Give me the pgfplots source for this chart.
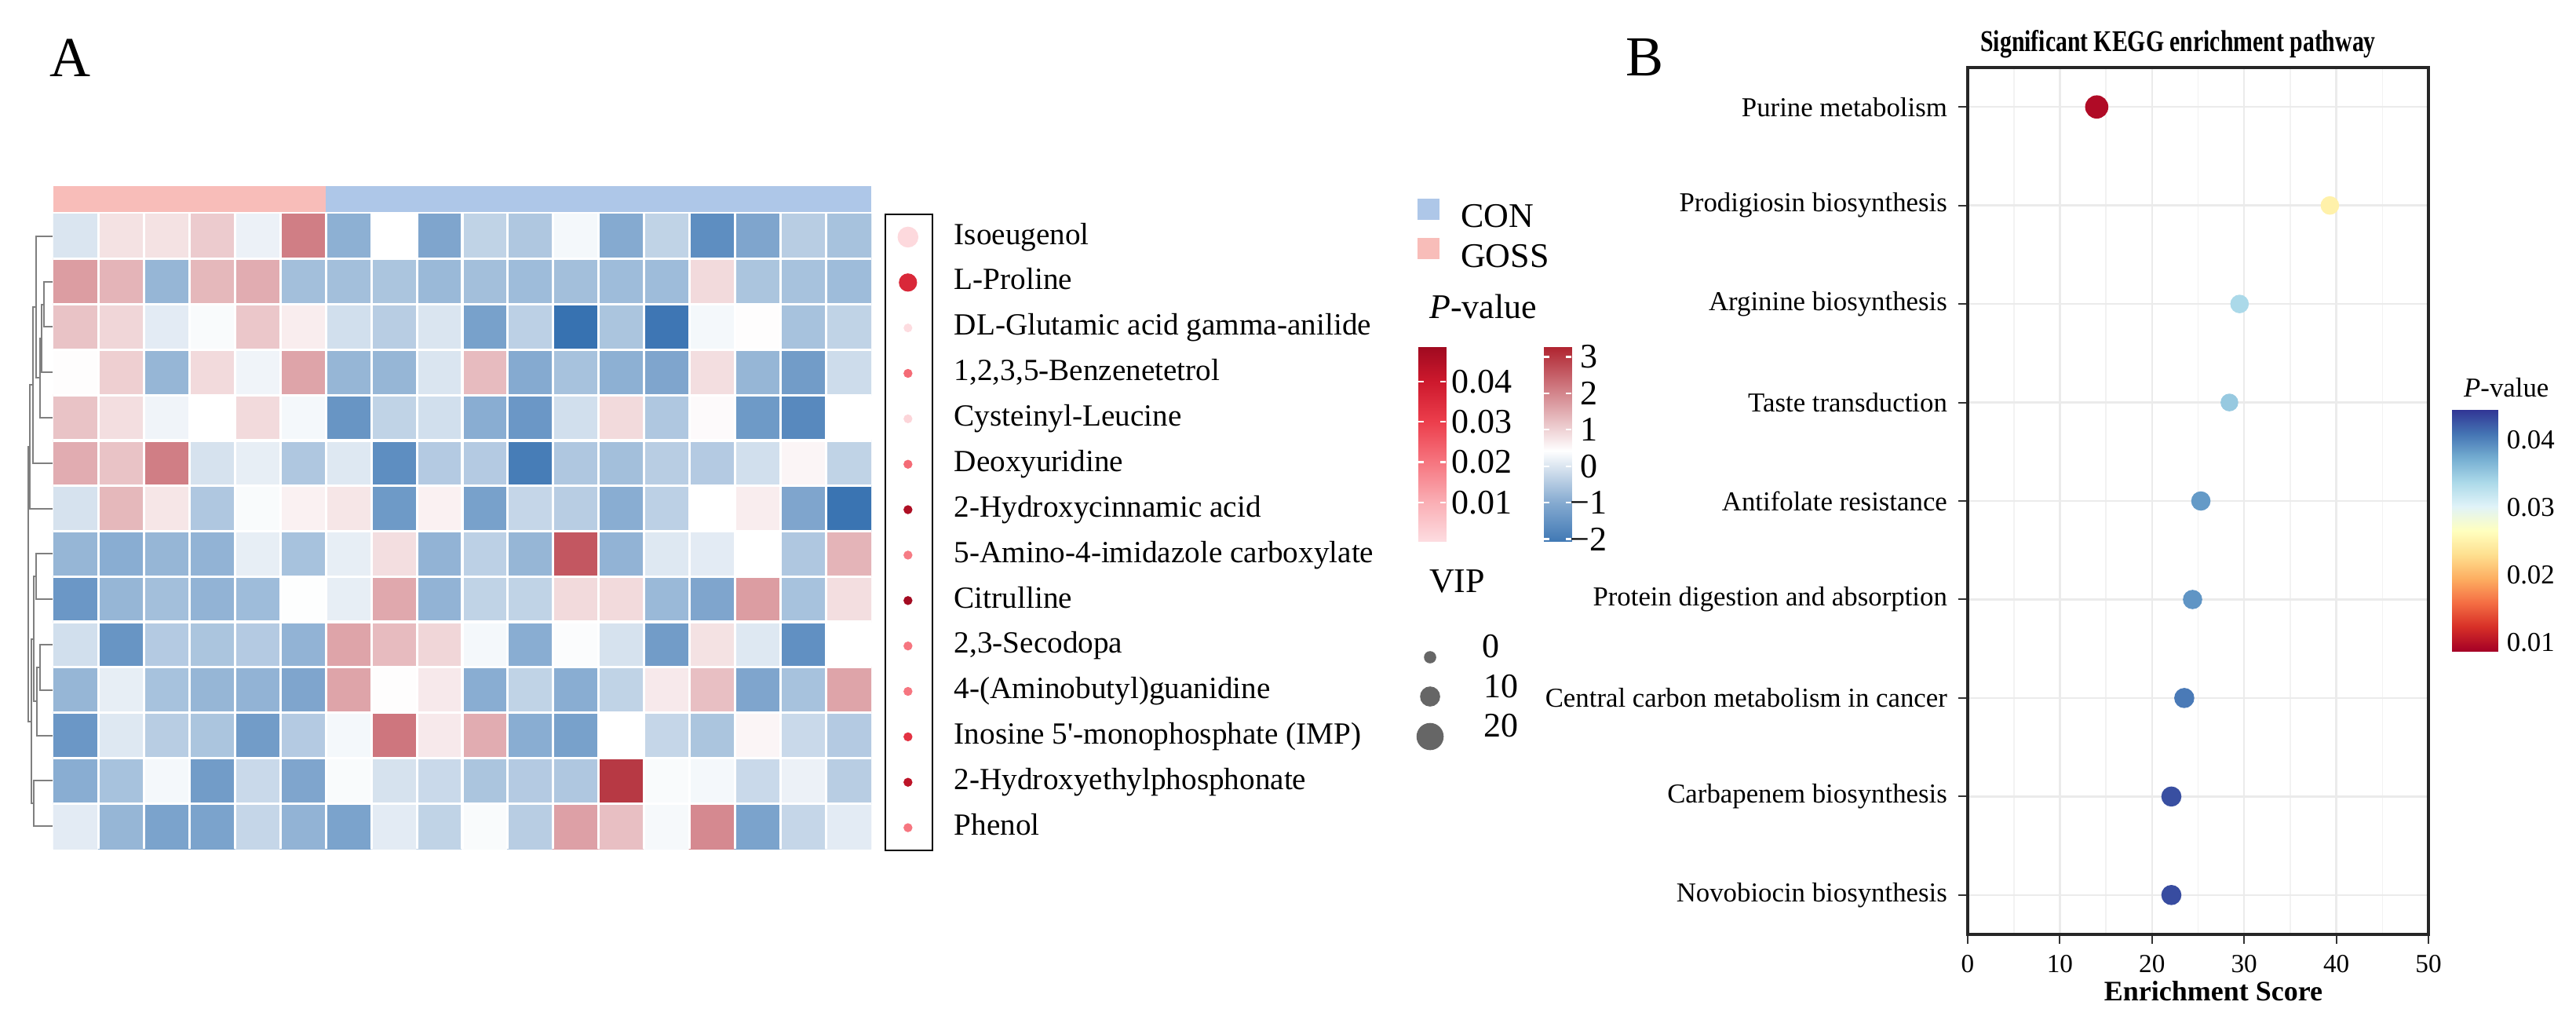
\documentclass[border=0pt]{standalone}
\usepackage{fontspec}
\setmainfont{Liberation Serif}
\usepackage{graphicx}
\usepackage{pgfplots}
\pgfplotsset{compat=1.18}
\definecolor{conc}{HTML}{AEC7E8}
\definecolor{gossc}{HTML}{F8BDB9}
\definecolor{dendro}{HTML}{7F7F7F}
\definecolor{vipgray}{HTML}{666666}
\newcommand{\fs}[1]{\fontsize{#1}{#1}\selectfont}
\pgfplotsset{
  colormap={hm}{rgb255(0pt)=(50,110,175) rgb255(128pt)=(133,170,208) rgb255(228pt)=(218,229,240) rgb255(270pt)=(255,255,255) rgb255(555pt)=(176,36,48)},
  colormap={pmap}{rgb255(0pt)=(253,222,226) rgb255(100pt)=(250,175,181) rgb255(200pt)=(246,118,128) rgb255(300pt)=(236,62,76) rgb255(400pt)=(205,25,45) rgb255(486pt)=(160,10,32)},
  colormap={rdylbu}{rgb255(0pt)=(165,0,38) rgb255(10pt)=(215,48,39) rgb255(20pt)=(244,109,67) rgb255(30pt)=(253,174,97) rgb255(40pt)=(254,224,144) rgb255(50pt)=(255,255,191) rgb255(60pt)=(224,243,248) rgb255(70pt)=(171,217,233) rgb255(80pt)=(116,173,209) rgb255(90pt)=(69,117,180) rgb255(100pt)=(49,54,149)},
  px/.style={scale only axis, anchor=south west},
  dlink/.style={dendro, line width=0.5pt, mark=none},
}
\begin{document}
\begin{tikzpicture}
\path[use as bounding box] (0pt,0pt) rectangle (820.5pt,324.5pt);

% ---------------- heatmap ----------------
\begin{axis}[px, at={(17pt,54.25pt)}, width=260.5pt, height=202.25pt,
  xmin=0.5, xmax=18.5, ymin=0.5, ymax=14.5, y dir=reverse,
  axis line style={draw=none}, major tick length=0pt,
  xtick={1.5,2.5,...,17.5}, ytick={1.5,2.5,...,13.5},
  xticklabel=\empty, yticklabel=\empty,
  grid=major, major grid style={white, line width=0.8pt}, axis on top,
  colormap name=hm, point meta min=-2.28, point meta max=3.27]
\addplot[matrix plot*, mesh/cols=18, mesh/rows=14, point meta=explicit] coordinates {
(1,1)[0.0] (2,1)[0.8] (3,1)[0.8] (4,1)[1.1] (5,1)[0.2] (6,1)[2.1] (7,1)[-0.9] (8,1)[0.42] (9,1)[-1.1] (10,1)[-0.3] (11,1)[-0.5] (12,1)[0.3] (13,1)[-1.0] (14,1)[-0.3] (15,1)[-1.6] (16,1)[-1.1] (17,1)[-0.4] (18,1)[-0.6]
(1,2)[1.7] (2,2)[1.4] (3,2)[-0.8] (4,2)[1.35] (5,2)[1.5] (6,2)[-0.65] (7,2)[-0.65] (8,2)[-0.55] (9,2)[-0.75] (10,2)[-0.65] (11,2)[-0.7] (12,2)[-0.65] (13,2)[-0.7] (14,2)[-0.7] (15,2)[0.9] (16,2)[-0.55] (17,2)[-0.6] (18,2)[-0.7]
(1,3)[1.2] (2,3)[0.95] (3,3)[0.1] (4,3)[0.35] (5,3)[1.15] (6,3)[0.65] (7,3)[-0.1] (8,3)[-0.4] (9,3)[0.0] (10,3)[-1.2] (11,3)[-0.35] (12,3)[-2.2] (13,3)[-0.55] (14,3)[-2.1] (15,3)[0.3] (16,3)[0.45] (17,3)[-0.6] (18,3)[-0.3]
(1,4)[0.45] (2,4)[1.05] (3,4)[-0.8] (4,4)[0.9] (5,4)[0.25] (6,4)[1.6] (7,4)[-0.8] (8,4)[-0.8] (9,4)[0.0] (10,4)[1.3] (11,4)[-1.0] (12,4)[-0.6] (13,4)[-0.9] (14,4)[-1.1] (15,4)[0.85] (16,4)[-0.8] (17,4)[-1.3] (18,4)[-0.15]
(1,5)[1.2] (2,5)[0.85] (3,5)[0.25] (4,5)[0.42] (5,5)[0.9] (6,5)[0.3] (7,5)[-1.45] (8,5)[-0.3] (9,5)[-0.1] (10,5)[-0.95] (11,5)[-1.4] (12,5)[-0.1] (13,5)[0.9] (14,5)[-0.5] (15,5)[0.48] (16,5)[-1.35] (17,5)[-1.7] (18,5)[0.42]
(1,6)[1.5] (2,6)[1.2] (3,6)[2.1] (4,6)[-0.05] (5,6)[0.15] (6,6)[-0.5] (7,6)[0.05] (8,6)[-1.6] (9,6)[-0.45] (10,6)[-0.45] (11,6)[-1.95] (12,6)[-0.5] (13,6)[-0.65] (14,6)[-0.4] (15,6)[-0.45] (16,6)[-0.1] (17,6)[0.55] (18,6)[-0.3]
(1,7)[-0.05] (2,7)[1.35] (3,7)[0.75] (4,7)[-0.5] (5,7)[0.35] (6,7)[0.6] (7,7)[0.75] (8,7)[-1.35] (9,7)[0.6] (10,7)[-1.2] (11,7)[-0.25] (12,7)[-0.4] (13,7)[-0.95] (14,7)[-0.35] (15,7)[0.42] (16,7)[0.65] (17,7)[-1.1] (18,7)[-2.15]
(1,8)[-0.8] (2,8)[-0.95] (3,8)[-0.8] (4,8)[-0.85] (5,8)[0.15] (6,8)[-0.6] (7,8)[0.15] (8,8)[0.85] (9,8)[-0.85] (10,8)[-0.35] (11,8)[-0.8] (12,8)[2.6] (13,8)[-0.85] (14,8)[0.05] (15,8)[0.1] (16,8)[0.42] (17,8)[-0.5] (18,8)[1.4]
(1,9)[-1.4] (2,9)[-0.8] (3,9)[-0.65] (4,9)[-0.85] (5,9)[-0.7] (6,9)[0.4] (7,9)[0.15] (8,9)[1.55] (9,9)[-0.85] (10,9)[-0.3] (11,9)[-0.3] (12,9)[0.9] (13,9)[0.9] (14,9)[-0.75] (15,9)[-1.1] (16,9)[1.7] (17,9)[-0.6] (18,9)[0.85]
(1,10)[-0.1] (2,10)[-1.45] (3,10)[-0.45] (4,10)[-0.55] (5,10)[-0.45] (6,10)[-0.85] (7,10)[1.6] (8,10)[1.3] (9,10)[0.95] (10,10)[0.3] (11,10)[-0.95] (12,10)[0.37] (13,10)[-0.05] (14,10)[-1.3] (15,10)[0.8] (16,10)[0.05] (17,10)[-1.55] (18,10)[0.42]
(1,11)[-0.8] (2,11)[0.15] (3,11)[-0.6] (4,11)[-0.8] (5,11)[-0.85] (6,11)[-1.1] (7,11)[1.6] (8,11)[0.45] (9,11)[0.7] (10,11)[-0.95] (11,11)[-0.3] (12,11)[-0.95] (13,11)[-0.3] (14,11)[0.7] (15,11)[1.25] (16,11)[-1.1] (17,11)[-0.6] (18,11)[1.6]
(1,12)[-1.4] (2,12)[0.05] (3,12)[-0.4] (4,12)[-0.55] (5,12)[-1.3] (6,12)[-0.45] (7,12)[0.3] (8,12)[2.2] (9,12)[0.7] (10,12)[1.5] (11,12)[-0.95] (12,12)[-1.2] (13,12)[0.42] (14,12)[-0.25] (15,12)[-0.55] (16,12)[0.55] (17,12)[-0.2] (18,12)[-0.45]
(1,13)[-0.95] (2,13)[-0.6] (3,13)[0.3] (4,13)[-1.3] (5,13)[-0.2] (6,13)[-1.1] (7,13)[0.35] (8,13)[-0.05] (9,13)[-0.2] (10,13)[-0.55] (11,13)[-0.45] (12,13)[-0.5] (13,13)[3.0] (14,13)[0.35] (15,13)[0.3] (16,13)[-0.2] (17,13)[0.2] (18,13)[-0.4]
(1,14)[0.1] (2,14)[-0.8] (3,14)[-1.15] (4,14)[-1.15] (5,14)[-0.25] (6,14)[-0.85] (7,14)[-1.15] (8,14)[0.1] (9,14)[-0.3] (10,14)[0.35] (11,14)[-0.4] (12,14)[1.65] (13,14)[1.25] (14,14)[0.32] (15,14)[1.95] (16,14)[-1.15] (17,14)[-0.25] (18,14)[0.1]
};
\end{axis}

% ---------------- group bar ----------------
\begin{axis}[px, at={(17pt,257pt)}, width=260.5pt, height=8.25pt,
  xmin=0.5, xmax=18.5, ymin=0, ymax=1, hide axis]
\addplot[fill=gossc, draw=none] coordinates {(0.5,1) (6.5,1)} \closedcycle;
\addplot[fill=conc, draw=none] coordinates {(6.5,1) (18.5,1)} \closedcycle;
\end{axis}

% ---------------- dendrogram ----------------
\begin{axis}[px, at={(7.5pt,54.25pt)}, width=9.175pt, height=202.25pt,
  xmin=30, xmax=66.7, ymin=0.5, ymax=14.5, y dir=reverse, hide axis, clip=false]
\addplot[dlink] coordinates {(66.7,2) (56,2) (56,3) (66.7,3)};
\addplot[dlink] coordinates {(56,2.5) (53,2.5) (53,4) (66.7,4)};
\addplot[dlink] coordinates {(53,3.25) (50.7,3.25) (50.7,5) (66.7,5)};
\addplot[dlink] coordinates {(66.7,1) (46,1) (46,4.125) (50.7,4.125)};
\addplot[dlink] coordinates {(46,2.5625) (41.7,2.5625) (41.7,6) (66.7,6)};
\addplot[dlink] coordinates {(41.7,4.28) (38,4.28) (38,7) (66.7,7)};
\addplot[dlink] coordinates {(66.7,8) (46,8) (46,9) (66.7,9)};
\addplot[dlink] coordinates {(66.7,10) (50.7,10) (50.7,11) (66.7,11)};
\addplot[dlink] coordinates {(50.7,10.5) (46.7,10.5) (46.7,12) (66.7,12)};
\addplot[dlink] coordinates {(46,8.5) (43,8.5) (43,11.25) (46.7,11.25)};
\addplot[dlink] coordinates {(66.7,13) (42.7,13) (42.7,14) (66.7,14)};
\addplot[dlink] coordinates {(43,9.875) (40,9.875) (40,13.5) (42.7,13.5)};
\addplot[dlink] coordinates {(38,5.64) (36,5.64) (36,11.69) (40,11.69)};
\end{axis}

% ---------------- VIP / p dots with row names ----------------
\begin{axis}[px, at={(282pt,53.75pt)}, width=15pt, height=202.5pt,
  xmin=0, xmax=1, ymin=0.5, ymax=14.5, y dir=reverse,
  axis line style={line width=0.7pt, black},
  xtick=\empty, ytick={1,...,14}, major tick length=0pt,
  yticklabel pos=right,
  yticklabels={Isoeugenol, L-Proline, DL-Glutamic acid gamma-anilide, {1,2,3,5-Benzenetetrol}, Cysteinyl-Leucine, Deoxyuridine, 2-Hydroxycinnamic acid, 5-Amino-4-imidazole carboxylate, Citrulline, {2,3-Secodopa}, 4-(Aminobutyl)guanidine, Inosine 5\textquotesingle-monophosphate (IMP), 2-Hydroxyethylphosphonate, Phenol},
  yticklabel style={anchor=base west, inner sep=0pt, xshift=6.75pt, yshift=-2.3pt, font=\fs{9.8}},
  colormap name=pmap, point meta min=0, point meta max=0.0486]
\addplot[scatter, only marks, mark=*, point meta=explicit,
  scatter/use mapped color={draw=mapped color, fill=mapped color},
  visualization depends on={(9+1.45*\thisrow{vip})/8 \as \msz},
  scatter/@pre marker code/.append style={/tikz/mark size=\msz}]
  table[x=x, y=y, meta=p] {
x y p vip
0.48 1 0.001 11
0.48 2 0.036 8.7
0.48 3 0.0005 0.3
0.48 4 0.022 0.5
0.48 5 0.002 0.4
0.48 6 0.022 0.5
0.48 7 0.046 0.5
0.48 8 0.019 0.5
0.48 9 0.048 0.5
0.48 10 0.020 0.5
0.48 11 0.020 0.5
0.48 12 0.033 0.5
0.48 13 0.043 0.5
0.48 14 0.020 0.5
};
\end{axis}

% ---------------- P-value colour bar (A) ----------------
\begin{axis}[px, at={(451.75pt,152.25pt)}, width=8.75pt, height=61.8pt,
  xmin=0, xmax=1, ymin=0.00045, ymax=0.0486,
  axis line style={draw=none}, xtick=\empty, scaled y ticks=false,
  ytick={0.01,0.02,0.03,0.04}, yticklabels={0.01,0.02,0.03,0.04},
  ytick pos=both, yticklabel pos=right, tick align=inside, major tick length=1.75pt,
  tick style={white, line width=0.6pt}, axis on top,
  yticklabel style={anchor=west, inner sep=0pt, xshift=1.75pt, font=\fs{11}},
  colormap name=pmap, point meta min=0, point meta max=0.0486]
\addplot[surf, shader=interp, mesh/cols=2, point meta=explicit] coordinates {
(0,0.00045)[0.00045] (1,0.00045)[0.00045]
(0,0.01)[0.01] (1,0.01)[0.01]
(0,0.02)[0.02] (1,0.02)[0.02]
(0,0.03)[0.03] (1,0.03)[0.03]
(0,0.04)[0.04] (1,0.04)[0.04]
(0,0.0486)[0.0486] (1,0.0486)[0.0486]
};
\end{axis}

% ---------------- z-score colour bar (A) ----------------
\begin{axis}[px, at={(491.75pt,152.25pt)}, width=8.75pt, height=61.8pt,
  xmin=0, xmax=1, ymin=-2.05, ymax=3.27,
  axis line style={draw=none}, xtick=\empty, scaled y ticks=false,
  ytick={-2,-1,0,1,2,3}, yticklabels={−2,−1,0,1,2,3},
  ytick pos=both, yticklabel pos=right, tick align=inside, major tick length=1.75pt,
  tick style={white, line width=0.6pt}, axis on top,
  yticklabel style={anchor=center, inner sep=0pt, xshift=5.5pt, font=\fs{11}},
  colormap name=hm, point meta min=-2.28, point meta max=3.27]
\addplot[surf, shader=interp, mesh/cols=2, point meta=explicit] coordinates {
(0,-2.05)[-2.05] (1,-2.05)[-2.05]
(0,-1)[-1] (1,-1)[-1]
(0,0)[0] (1,0)[0]
(0,0.42)[0.42] (1,0.42)[0.42]
(0,3.27)[3.27] (1,3.27)[3.27]
};
\end{axis}

% ---------------- KEGG bubble plot (B) ----------------
\begin{axis}[px, at={(626.75pt,27pt)}, width=146.75pt, height=276pt,
  xmin=0, xmax=50, ymin=0.6, ymax=9.4, y dir=reverse,
  xtick={0,10,...,50}, minor xtick={5,15,...,45},
  ytick={1,...,9},
  yticklabels={Purine metabolism, Prodigiosin biosynthesis, Arginine biosynthesis, Taste transduction, Antifolate resistance, Protein digestion and absorption, Central carbon metabolism in cancer, Carbapenem biosynthesis, Novobiocin biosynthesis},
  grid=both, major grid style={black!8, line width=0.6pt}, minor grid style={black!5, line width=0.4pt},
  tick align=outside, major tick length=3pt, minor tick length=0pt,
  tick style={black!80, line width=0.5pt},
  xtick pos=lower, ytick pos=left,
  axis line style={black!85, line width=0.9pt},
  yticklabel style={font=\fs{8.7}},
  xticklabel style={font=\fs{8.3}},
  xticklabels={0,10,20,30,40,50},
  colormap name=rdylbu, point meta min=0.0087, point meta max=0.0444, clip=false]
\addplot[scatter, only marks, mark=*, point meta=explicit,
  scatter/use mapped color={draw=mapped color, fill=mapped color},
  visualization depends on={\thisrow{d}/8 \as \dd},
  scatter/@pre marker code/.append style={/tikz/mark size=\dd}]
  table[x=x, y=y, meta=p] {
y x p d
1 14.0 0.0095 28
2 39.3 0.0250 22
3 29.5 0.0337 22
4 28.4 0.0350 21
5 25.3 0.0385 23
6 24.4 0.0388 23
7 23.5 0.0405 24
8 22.1 0.0430 24
9 22.1 0.0432 24
};
\end{axis}

% ---------------- P-value colour bar (B) ----------------
\begin{axis}[px, at={(781pt,117.25pt)}, width=14.5pt, height=76.75pt,
  xmin=0, xmax=1, ymin=0.0087, ymax=0.0444,
  axis line style={draw=none}, xtick=\empty, scaled y ticks=false,
  ytick={0.01,0.02,0.03,0.04}, yticklabels={0.01,0.02,0.03,0.04},
  yticklabel pos=right, major tick length=0pt,
  yticklabel style={anchor=west, inner sep=0pt, xshift=2.75pt, font=\fs{8.7}},
  colormap name=rdylbu, point meta min=0.0087, point meta max=0.0444]
\addplot[surf, shader=interp, mesh/cols=2, point meta=explicit] coordinates {
(0,0.0087)[0.0087] (1,0.0087)[0.0087]
(0,0.01227)[0.01227] (1,0.01227)[0.01227]
(0,0.01584)[0.01584] (1,0.01584)[0.01584]
(0,0.01941)[0.01941] (1,0.01941)[0.01941]
(0,0.02298)[0.02298] (1,0.02298)[0.02298]
(0,0.02655)[0.02655] (1,0.02655)[0.02655]
(0,0.03012)[0.03012] (1,0.03012)[0.03012]
(0,0.03369)[0.03369] (1,0.03369)[0.03369]
(0,0.03726)[0.03726] (1,0.03726)[0.03726]
(0,0.04083)[0.04083] (1,0.04083)[0.04083]
(0,0.0444)[0.0444] (1,0.0444)[0.0444]
};
\end{axis}

% ---------------- overlay: legends and free text (pixel coordinates) ----------------
\begin{axis}[px, at={(0pt,0pt)}, width=820.5pt, height=324.5pt,
  xmin=0, xmax=3282, ymin=0, ymax=1298, y dir=reverse, hide axis, clip=false]
\addplot[fill=conc, draw=none] coordinates {(1806,253) (1834,253) (1834,280) (1806,280)} -- cycle;
\addplot[fill=gossc, draw=none] coordinates {(1806,303) (1834,303) (1834,330) (1806,330)} -- cycle;
\addplot[scatter, only marks, mark=*, point meta=explicit,
  scatter/use mapped color={draw=vipgray, fill=vipgray},
  visualization depends on={\thisrow{d}/8 \as \vd},
  scatter/@pre marker code/.append style={/tikz/mark size=\vd}]
  table[x=x, y=y, meta=d] {
x y d
1822 837 14
1822 887 24
1822 938 33
};
\node[anchor=base west, font=\fs{18}] at (axis cs:49,97) {A};
\node[anchor=base west, font=\fs{18}] at (axis cs:2057,96) {B};
\node[anchor=base west, font=\fs{11}] at (axis cs:1847,289) {CON};
\node[anchor=base west, font=\fs{11}] at (axis cs:1847,340) {GOSS};
\node[anchor=base west, font=\fs{11}] at (axis cs:1807,405) {\textit{P}-value};
\node[anchor=base west, font=\fs{11}] at (axis cs:1807,754) {VIP};
\node[anchor=base west, font=\fs{11}] at (axis cs:1874,837) {0};
\node[anchor=base west, font=\fs{11}] at (axis cs:1876,888) {10};
\node[anchor=base west, font=\fs{11}] at (axis cs:1876,938) {20};
\node[anchor=base, font=\fs{9.6}\bfseries] at (axis cs:2775,65) {\scalebox{0.775}[1]{Significant KEGG enrichment pathway}};
\node[anchor=base, font=\fs{9}\bfseries] at (axis cs:2820,1274) {Enrichment Score};
\node[anchor=base west, font=\fs{8.7}] at (axis cs:3125,505) {\textit{P}-value};
\end{axis}
\end{tikzpicture}
\end{document}
